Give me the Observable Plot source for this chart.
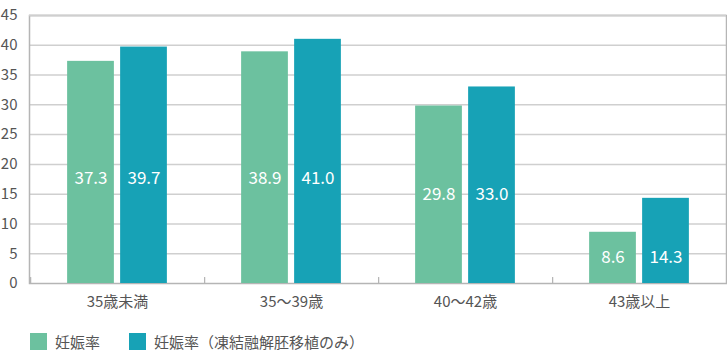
<!DOCTYPE html>
<html>
<head>
<meta charset="utf-8">
<script src="https://cdn.jsdelivr.net/npm/d3@7"></script>
<script src="https://cdn.jsdelivr.net/npm/@observablehq/plot@0.6"></script>
<style>
  html, body { margin: 0; padding: 0; background: #fff; }
  #wrap { position: relative; width: 727px; height: 364px; font-family: 'Noto Sans CJK JP', 'Noto Sans', sans-serif; }
  .legend { position: absolute; top: 331px; left: 30px; display: flex; align-items: center; font-size: 15px; color: #555; }
  .legend .item { display: flex; align-items: center; margin-right: 29px; }
  .legend .sw { width: 17px; height: 17px; margin-right: 8px; }
</style>
</head>
<body>
<div id="wrap"></div>
<script>
const categories = ["35歳未満", "35〜39歳", "40〜42歳", "43歳以上"];
const series = ["妊娠率", "妊娠率（凍結融解胚移植のみ）"];
const pregnancyRate = [37.3, 38.9, 29.8, 8.6];
const frozenRate = [39.7, 41.0, 33.0, 14.3];
const yTicks = [0, 5, 10, 15, 20, 25, 30, 35, 40, 45];
const colors = ["#6cc19f", "#17a2b6"];

const W = 727, H = 318, ML = 29, MR = 1, MT = 15, MB = 35;
const bw = (W - ML - MR) / categories.length;
const barW = 47, gap = 6;
const labelCap = 17.6;

const rows0 = categories.map((c, i) => ({cat: c, value: pregnancyRate[i], labelY: Math.min(labelCap, Math.min(pregnancyRate[i], frozenRate[i]) / 2)}));
const rows1 = categories.map((c, i) => ({cat: c, value: frozenRate[i], labelY: Math.min(labelCap, Math.min(pregnancyRate[i], frozenRate[i]) / 2)}));

const chart = Plot.plot({
  width: W, height: H,
  marginLeft: ML, marginRight: MR, marginTop: MT, marginBottom: MB,
  style: {fontFamily: "'Noto Sans CJK JP', 'Noto Sans', sans-serif", fontSize: "15px", color: "#555", background: "#fff"},
  x: {domain: categories, padding: 0, tickSize: 0, tickPadding: 13, label: null},
  y: {domain: [0, 45], ticks: yTicks, tickSize: 0, tickPadding: 12, label: null, tickFormat: d => d},
  marks: [
    Plot.ruleY(yTicks.filter(t => t > 0), {stroke: "#cfcfcf", strokeWidth: 1.5}),
    Plot.frame({stroke: "#b5b5b5", strokeWidth: 1.5}),
    Plot.ruleY([45], {stroke: "#cfcfcf", strokeWidth: 1.5}),
    Plot.barY(categories, {x: d => d, y1: 0, y2: 1, insetLeft: 0, insetRight: bw - 1.5, fill: "#b5b5b5"}),
    Plot.barY(rows0, {x: "cat", y: "value", fill: colors[0], insetLeft: bw / 2 - gap / 2 - barW, insetRight: bw / 2 + gap / 2}),
    Plot.barY(rows1, {x: "cat", y: "value", fill: colors[1], insetLeft: bw / 2 + gap / 2, insetRight: bw / 2 - gap / 2 - barW}),
    Plot.text(rows0, {x: "cat", y: "labelY", text: d => d.value.toFixed(1), dx: -(gap / 2 + barW / 2), fill: "#fff", fontSize: 17}),
    Plot.text(rows1, {x: "cat", y: "labelY", text: d => d.value.toFixed(1), dx: (gap / 2 + barW / 2), fill: "#fff", fontSize: 17})
  ]
});

const wrap = document.getElementById("wrap");
wrap.appendChild(chart);
const legend = document.createElement("div");
legend.className = "legend";
series.forEach((s, i) => {
  const item = document.createElement("div");
  item.className = "item";
  const sw = document.createElement("span");
  sw.className = "sw";
  sw.style.background = colors[i];
  const t = document.createElement("span");
  t.textContent = s;
  item.appendChild(sw);
  item.appendChild(t);
  legend.appendChild(item);
});
wrap.appendChild(legend);
</script>
</body>
</html>
